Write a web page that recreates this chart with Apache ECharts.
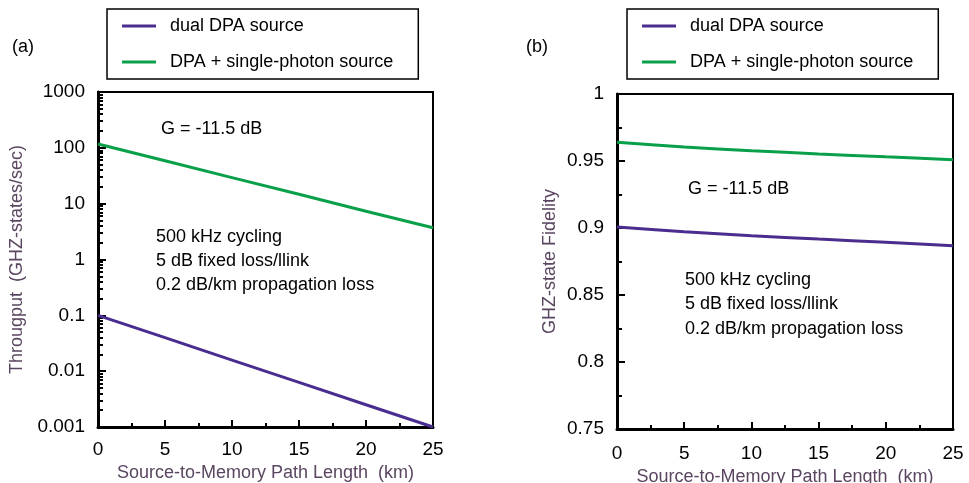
<!DOCTYPE html>
<html>
<head>
<meta charset="utf-8">
<script src="https://cdn.jsdelivr.net/npm/echarts@6/dist/echarts.min.js"></script>
<style>
html,body{margin:0;padding:0;background:#fff;}
#c{width:969px;height:483px;}
</style>
</head>
<body>
<div id="c"></div>
<script>
// ---- data ----
const distanceKm = [0, 5, 10, 15, 20, 25];
const throughputDual = [0.1, 0.0398, 0.0158, 0.0063, 0.0025, 0.001];
const throughputSingle = [117, 58.6, 29.3, 14.7, 7.3, 3.7];
const fidelityDual = [0.9008, 0.8972, 0.8943, 0.8917, 0.8893, 0.8868];
const fidelitySingle = [0.964, 0.9605, 0.9577, 0.9553, 0.9531, 0.951];
const seriesNames = ['dual DPA source', 'DPA + single-photon source'];
const fidelityTicks = ['0.75', '0.8', '0.85', '0.9', '0.95', '1'];
const throughputTicks = ['0.001', '0.01', '0.1', '1', '10', '100', '1000'];
const annotationLines = ['500 kHz cycling', '5 dB fixed loss/llink', '0.2 dB/km propagation loss'];
const gainLabel = 'G = -11.5 dB';

const PURPLE = '#4a2d8f';
const GREEN = '#0aa04a';
const FONT = '"Liberation Sans", Arial, sans-serif';
const TITLE_COLOR = '#5a4660';

// minor log tick positions (log10 space) for overlay axis
const minorLogTicks = [];
for (let n = -3; n < 3; n++) {
  for (let k = 2; k <= 9; k++) minorLogTicks.push(Math.log10(k) + n);
}

function pairs(xs, ys) { return xs.map((x, i) => [x, ys[i]]); }

const chart = echarts.init(document.getElementById('c'), null, {renderer: 'canvas'});

function xAxisDef(gridIndex, labelMargin, nameGap) {
  return {
    gridIndex: gridIndex,
    type: 'value', min: 0, max: 25, interval: 5,
    nameLocation: 'middle', nameGap: nameGap,
    name: 'Source-to-Memory Path Length  (km)',
    nameTextStyle: {fontFamily: FONT, fontSize: 18, color: TITLE_COLOR},
    axisLine: {show: true, onZero: false, lineStyle: {color: '#000', width: 3}},
    axisTick: {show: true, inside: true, length: 7, lineStyle: {color: '#000', width: 2}},
    minorTick: {show: true, splitNumber: 2, length: 4, lineStyle: {color: '#000', width: 2}},
    axisLabel: {fontFamily: FONT, fontSize: 19, color: '#000', margin: labelMargin},
    splitLine: {show: false}
  };
}

const legendCommon = {
  orient: 'vertical',
  data: seriesNames,
  icon: 'rect',
  backgroundColor: '#fff',
  borderColor: '#000',
  borderWidth: 1.5,
  borderRadius: 0,
  padding: [7, 25, 7, 15],
  itemGap: 16,
  itemWidth: 34,
  itemHeight: 3,
  textStyle: {fontFamily: FONT, fontSize: 18, color: '#000', lineHeight: 20, padding: [0, 0, 0, 9]},
  selectedMode: false
};

function textEl(x, y, txt, size) {
  return {type: 'text', left: x, top: y, style: {text: txt, fontFamily: FONT, fontSize: size || 18, fill: '#000'}};
}

const graphics = [
  textEl(12, 38, '(a)', 18),
  textEl(526, 38, '(b)', 18),
  textEl(161, 120, gainLabel),
  textEl(688, 180, gainLabel)
];
annotationLines.forEach((t, i) => {
  graphics.push(textEl(156, 228 + i * 24, t));
  graphics.push(textEl(685, 271 + i * 24.5, t));
});

const gridCommon = {show: true, borderColor: '#000', borderWidth: 2, backgroundColor: 'transparent',
  containLabel: false, outerBoundsMode: 'none'};

const option = {
  animation: false,
  backgroundColor: '#fff',
  legend: [
    Object.assign({left: 107, top: 9}, legendCommon),
    Object.assign({left: 627, top: 9}, legendCommon)
  ],
  grid: [
    Object.assign({left: 98, top: 92, width: 335, height: 335}, gridCommon),
    Object.assign({left: 617, top: 94, width: 336, height: 335}, gridCommon)
  ],
  xAxis: [
    xAxisDef(0, 13, 34),
    xAxisDef(1, 15, 39)
  ],
  yAxis: [
    {
      gridIndex: 0, type: 'log', logBase: 10, min: 0.001, max: 1000, splitNumber: 6,
      name: 'Througput  (GHZ-states/sec)', nameLocation: 'middle', nameGap: 72,
      nameTextStyle: {fontFamily: FONT, fontSize: 18, color: TITLE_COLOR},
      axisLine: {show: true, lineStyle: {color: '#000', width: 3}},
      axisTick: {show: true, inside: true, length: 8, lineStyle: {color: '#000', width: 2}},
      axisLabel: {fontFamily: FONT, fontSize: 19, color: '#000', margin: 13,
        formatter: function (v) {
          const e = Math.round(Math.log10(v));
          return throughputTicks[e + 3];
        }},
      splitLine: {show: false}
    },
    {
      gridIndex: 0, type: 'value', min: -3, max: 3, position: 'left',
      axisLine: {show: false},
      axisLabel: {show: false},
      splitLine: {show: false},
      axisTick: {show: true, inside: true, length: 5, customValues: minorLogTicks, lineStyle: {color: '#000', width: 2}}
    },
    {
      gridIndex: 1, type: 'value', min: 0.75, max: 1, interval: 0.05,
      name: 'GHZ-state Fidelity', nameLocation: 'middle', nameGap: 58,
      nameTextStyle: {fontFamily: FONT, fontSize: 18, color: TITLE_COLOR},
      axisLine: {show: true, lineStyle: {color: '#000', width: 3}},
      axisTick: {show: true, inside: true, length: 8, lineStyle: {color: '#000', width: 2}},
      minorTick: {show: true, splitNumber: 2, length: 5, lineStyle: {color: '#000', width: 2}},
      axisLabel: {fontFamily: FONT, fontSize: 19, color: '#000', margin: 13,
        formatter: function (v) {
          const idx = Math.round((v - 0.75) / 0.05);
          return fidelityTicks[idx];
        }},
      splitLine: {show: false}
    }
  ],
  series: [
    {name: seriesNames[0], type: 'line', xAxisIndex: 0, yAxisIndex: 0, data: pairs(distanceKm, throughputDual),
      symbol: 'none', lineStyle: {color: PURPLE, width: 3}, itemStyle: {color: PURPLE}},
    {name: seriesNames[1], type: 'line', xAxisIndex: 0, yAxisIndex: 0, data: pairs(distanceKm, throughputSingle),
      symbol: 'none', lineStyle: {color: GREEN, width: 3}, itemStyle: {color: GREEN}},
    {name: seriesNames[0], type: 'line', xAxisIndex: 1, yAxisIndex: 2, data: pairs(distanceKm, fidelityDual),
      symbol: 'none', smooth: 0.3, lineStyle: {color: PURPLE, width: 3}, itemStyle: {color: PURPLE}},
    {name: seriesNames[1], type: 'line', xAxisIndex: 1, yAxisIndex: 2, data: pairs(distanceKm, fidelitySingle),
      symbol: 'none', smooth: 0.3, lineStyle: {color: GREEN, width: 3}, itemStyle: {color: GREEN}}
  ],
  graphic: graphics
};

chart.setOption(option);
</script>
</body>
</html>
